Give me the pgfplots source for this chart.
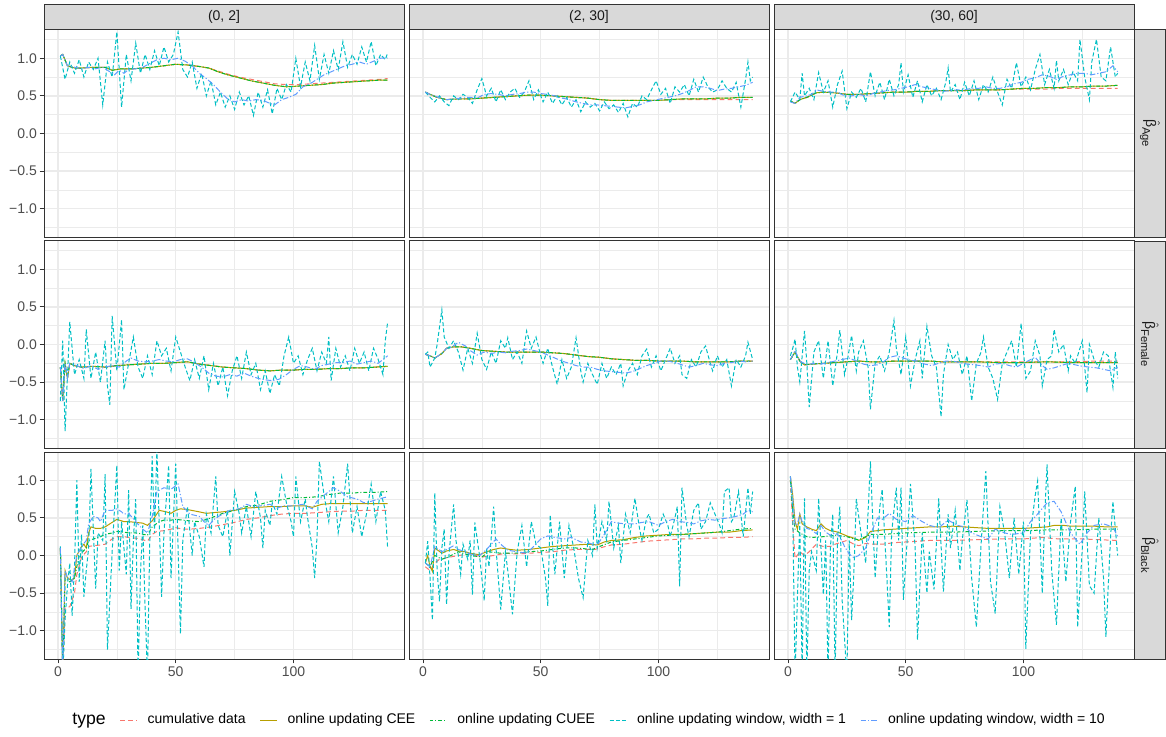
\documentclass[border=0pt]{standalone}
\usepackage{fontspec}
\setmainfont{Liberation Sans}
\usepackage{pgfplots}
\pgfplotsset{compat=1.18}
\definecolor{ggred}{HTML}{F8766D}
\definecolor{ggolive}{HTML}{B79F00}
\definecolor{gggreen}{HTML}{00BA38}
\definecolor{ggcyan}{HTML}{00BFC4}
\definecolor{ggblue}{HTML}{619CFF}
\definecolor{grey92}{HTML}{EBEBEB}
\definecolor{grey20}{HTML}{333333}
\definecolor{grey85}{HTML}{D9D9D9}
\definecolor{grey30}{HTML}{4D4D4D}
\definecolor{grey10}{HTML}{1A1A1A}
\newcommand{\fsz}{\fontsize{7}{8.4}\selectfont}
\newcommand{\bh}[1]{\(\hat{\mbox{β}}_{\mbox{\fontsize{5.6}{6}\selectfont #1}}\)}
\pgfplotsset{
  panel/.style={
    scale only axis, width=180pt, height=103.5pt, anchor=south west,
    xmin=-5.95, xmax=146.95, ymin=-1.375, ymax=1.375,
    xtick={0,50,100}, minor xtick={25,75,125},
    ytick={-1,-0.5,0,0.5,1}, minor ytick={-1.25,-0.75,-0.25,0.25,0.75,1.25},
    grid=both,
    major grid style={draw=grey92, line width=0.7pt},
    minor grid style={draw=grey92, line width=0.35pt},
    axis line style={draw=grey20, line width=0.5pt},
    xticklabels={}, yticklabels={},
    tick align=outside, major tick length=2.2pt, minor tick length=0pt,
    xtick pos=bottom, ytick pos=left,
    xtick style={draw=none}, ytick style={draw=none},
    tick label style={font=\fsz, text=grey30},
    no markers, every axis plot/.append style={line width=0.5pt},
    every axis title/.style={at={(0.5,1)}, anchor=south, draw=grey20, line width=0.5pt, fill=grey85, minimum width=180pt, minimum height=12.5pt, inner sep=0pt, font=\fsz, text=grey10},
  },
  leftcol/.style={yticklabels={−1.0,−0.5,0.0,0.5,1.0}, ytick style={draw=grey20, line width=0.5pt}, yticklabel style={inner xsep=1.2pt}},
  botrow/.style={xticklabels={0,50,100}, xtick style={draw=grey20, line width=0.5pt}, xticklabel style={inner ysep=1.5pt}},
  strip/.style={after end axis/.append code={\node[draw=grey20, line width=0.5pt, fill=grey85, rotate=-90, minimum width=103.5pt, minimum height=15.5pt, inner sep=0pt, anchor=south, font=\fsz, text=grey10] at (rel axis cs:1,0.5) {#1};}},
  cum/.style={ggred, dash pattern=on 2.4pt off 1.6pt},
  cee/.style={ggolive, solid},
  cuee/.style={gggreen, dash pattern=on 1.8pt off 1pt on 0.5pt off 1pt},
  winA/.style={ggcyan, dash pattern=on 2pt off 1.2pt},
  winB/.style={ggblue, dash pattern=on 2.8pt off 1pt on 0.6pt off 1pt},
}
\begin{document}
\begin{tikzpicture}
\useasboundingbox (0,0) rectangle (583pt,368pt);
% ---------------- Row 1: Age ----------------
\begin{axis}[panel, leftcol, at={(22pt,249.5pt)}, title={(0, 2]}]
\addplot[cum] coordinates {(1,1.03)(2,1.05)(4,0.90)(7,0.87)(10,0.87)(15,0.88)(20,0.88)(23,0.84)(27,0.86)(32,0.86)(40,0.88)(45,0.90)(50,0.92)(55,0.91)(60,0.89)(64,0.87)(68,0.83)(72,0.79)(77,0.75)(82,0.72)(87,0.69)(92,0.66)(97,0.65)(102,0.65)(107,0.66)(112,0.67)(117,0.68)(122,0.69)(127,0.70)(132,0.71)(137,0.72)(140,0.73)};
\addplot[cee] coordinates {(1,1.03)(2,1.05)(4,0.90)(7,0.87)(10,0.87)(15,0.88)(20,0.88)(23,0.84)(27,0.86)(32,0.86)(40,0.88)(45,0.90)(50,0.92)(55,0.91)(60,0.89)(64,0.87)(68,0.82)(72,0.78)(77,0.74)(82,0.70)(87,0.67)(92,0.64)(97,0.62)(102,0.63)(107,0.64)(112,0.65)(117,0.67)(122,0.68)(127,0.69)(132,0.70)(137,0.71)(140,0.71)};
\addplot[cuee] coordinates {(1,1.03)(2,1.05)(4,0.90)(7,0.87)(10,0.87)(15,0.88)(20,0.88)(23,0.84)(27,0.86)(32,0.86)(40,0.88)(45,0.90)(50,0.92)(55,0.91)(60,0.89)(64,0.87)(68,0.82)(72,0.78)(77,0.74)(82,0.70)(87,0.67)(92,0.64)(97,0.62)(102,0.63)(107,0.64)(112,0.65)(117,0.67)(122,0.68)(127,0.69)(132,0.70)(137,0.71)(140,0.71)};
\addplot[winA] coordinates {(1,1.03)(3,0.72)(5,0.95)(7,0.80)(9,0.98)(11,0.75)(13,0.95)(15,0.85)(17,1.0)(19,0.38)(21,0.95)(23,0.75)(25,1.35)(27,0.35)(29,1.05)(31,0.70)(33,1.20)(35,0.80)(37,1.05)(39,0.85)(41,1.10)(43,0.90)(45,1.15)(47,0.95)(49,1.05)(51,1.35)(53,0.85)(55,0.75)(57,0.95)(59,0.60)(61,0.80)(63,0.50)(65,0.70)(67,0.38)(69,0.55)(71,0.35)(73,0.50)(75,0.32)(77,0.55)(79,0.38)(81,0.50)(83,0.24)(85,0.55)(87,0.35)(89,0.58)(91,0.26)(93,0.60)(95,0.45)(97,0.65)(99,0.55)(101,1.00)(103,0.62)(105,0.95)(107,0.70)(109,1.17)(111,0.72)(113,1.05)(115,0.80)(117,1.10)(119,0.85)(121,1.22)(123,0.88)(125,1.05)(127,0.92)(129,1.15)(131,0.95)(133,1.22)(135,0.90)(137,1.05)(139,0.98)(140,1.07)};
\addplot[winB] coordinates {(1,1.03)(2,1.05)(4,0.90)(7,0.88)(10,0.86)(13,0.88)(16,0.86)(19,0.88)(22,0.82)(24,0.78)(26,0.84)(28,0.80)(30,0.85)(33,0.86)(36,0.88)(39,0.93)(42,0.98)(45,1.00)(48,0.98)(51,1.00)(54,0.96)(57,0.90)(60,0.80)(63,0.73)(66,0.65)(69,0.55)(72,0.46)(75,0.42)(78,0.45)(81,0.43)(84,0.45)(87,0.44)(90,0.40)(92,0.38)(95,0.45)(98,0.48)(101,0.52)(104,0.62)(107,0.66)(110,0.72)(113,0.78)(116,0.82)(119,0.86)(122,0.90)(125,0.92)(128,0.95)(131,0.92)(134,0.96)(137,1.00)(140,1.00)};
\end{axis}
\begin{axis}[panel, at={(204.5pt,249.5pt)}, title={(2, 30]}]
\addplot[cum] coordinates {(1,0.55)(3,0.52)(6,0.48)(10,0.45)(15,0.46)(20,0.46)(25,0.47)(30,0.48)(35,0.49)(40,0.50)(45,0.51)(50,0.51)(55,0.50)(60,0.49)(65,0.48)(70,0.47)(75,0.45)(80,0.44)(85,0.44)(90,0.44)(95,0.44)(100,0.44)(105,0.45)(110,0.45)(115,0.45)(120,0.45)(125,0.45)(130,0.45)(135,0.45)(140,0.45)};
\addplot[cee] coordinates {(1,0.55)(3,0.52)(6,0.48)(10,0.45)(15,0.46)(20,0.46)(25,0.47)(30,0.48)(35,0.49)(40,0.50)(45,0.51)(50,0.51)(55,0.50)(60,0.49)(65,0.48)(70,0.47)(75,0.45)(80,0.44)(85,0.44)(90,0.44)(95,0.44)(100,0.44)(105,0.45)(110,0.46)(115,0.46)(120,0.46)(125,0.47)(130,0.47)(135,0.48)(140,0.48)};
\addplot[cuee] coordinates {(1,0.55)(3,0.52)(6,0.48)(10,0.45)(15,0.46)(20,0.46)(25,0.47)(30,0.48)(35,0.49)(40,0.50)(45,0.51)(50,0.51)(55,0.50)(60,0.49)(65,0.48)(70,0.47)(75,0.45)(80,0.44)(85,0.44)(90,0.44)(95,0.44)(100,0.44)(105,0.45)(110,0.46)(115,0.46)(120,0.46)(125,0.47)(130,0.47)(135,0.48)(140,0.48)};
\addplot[winA] coordinates {(1,0.55)(3,0.48)(5,0.42)(7,0.50)(9,0.42)(11,0.37)(13,0.50)(15,0.45)(17,0.52)(19,0.48)(21,0.40)(23,0.58)(25,0.73)(27,0.50)(29,0.60)(31,0.42)(33,0.58)(35,0.45)(37,0.55)(39,0.60)(41,0.48)(43,0.55)(45,0.70)(47,0.45)(49,0.58)(51,0.42)(53,0.55)(55,0.40)(57,0.50)(59,0.38)(61,0.48)(63,0.35)(65,0.45)(67,0.29)(69,0.42)(71,0.35)(73,0.40)(75,0.30)(77,0.42)(79,0.33)(81,0.38)(83,0.28)(85,0.40)(87,0.22)(89,0.40)(91,0.35)(93,0.50)(95,0.45)(97,0.58)(99,0.70)(101,0.52)(103,0.60)(105,0.40)(107,0.62)(109,0.55)(111,0.65)(113,0.50)(115,0.72)(117,0.55)(119,0.75)(121,0.62)(123,0.55)(125,0.58)(127,0.70)(129,0.60)(131,0.55)(133,0.68)(135,0.35)(137,0.72)(138,0.95)(139,0.70)(140,0.75)};
\addplot[winB] coordinates {(1,0.55)(3,0.52)(5,0.50)(8,0.46)(10,0.45)(13,0.46)(16,0.47)(20,0.48)(23,0.47)(26,0.52)(29,0.53)(32,0.52)(35,0.50)(38,0.52)(41,0.53)(44,0.55)(47,0.55)(50,0.53)(53,0.52)(56,0.50)(59,0.47)(62,0.45)(65,0.42)(68,0.40)(71,0.38)(74,0.38)(77,0.37)(80,0.36)(83,0.35)(86,0.34)(89,0.36)(92,0.38)(95,0.42)(98,0.44)(101,0.46)(104,0.48)(107,0.50)(110,0.53)(113,0.57)(116,0.62)(119,0.62)(122,0.60)(125,0.57)(128,0.59)(131,0.60)(134,0.62)(137,0.64)(140,0.68)};
\end{axis}
\begin{axis}[panel, at={(387pt,249.5pt)}, title={(30, 60]}, strip={\bh{Age}}]
\addplot[cum] coordinates {(1,0.43)(3,0.40)(5,0.45)(8,0.48)(12,0.54)(15,0.55)(20,0.54)(25,0.52)(30,0.52)(35,0.53)(40,0.54)(45,0.55)(50,0.55)(55,0.56)(60,0.56)(65,0.57)(70,0.57)(75,0.57)(80,0.58)(85,0.58)(90,0.58)(95,0.59)(100,0.59)(105,0.59)(110,0.59)(115,0.60)(120,0.60)(125,0.60)(130,0.60)(135,0.60)(140,0.60)};
\addplot[cee] coordinates {(1,0.43)(3,0.40)(5,0.45)(8,0.48)(12,0.54)(15,0.55)(20,0.54)(25,0.52)(30,0.52)(35,0.53)(40,0.54)(45,0.55)(50,0.55)(55,0.56)(60,0.56)(65,0.57)(70,0.57)(75,0.57)(80,0.58)(85,0.58)(90,0.58)(95,0.59)(100,0.60)(105,0.60)(110,0.61)(115,0.61)(120,0.62)(125,0.62)(130,0.63)(135,0.63)(140,0.64)};
\addplot[cuee] coordinates {(1,0.43)(3,0.40)(5,0.45)(8,0.48)(12,0.54)(15,0.55)(20,0.54)(25,0.52)(30,0.52)(35,0.53)(40,0.54)(45,0.55)(50,0.55)(55,0.56)(60,0.56)(65,0.57)(70,0.57)(75,0.57)(80,0.58)(85,0.58)(90,0.58)(95,0.59)(100,0.60)(105,0.60)(110,0.61)(115,0.61)(120,0.62)(125,0.62)(130,0.63)(135,0.63)(140,0.64)};
\addplot[winA] coordinates {(1,0.42)(3,0.55)(5,0.45)(6,0.80)(7,0.50)(9,0.60)(11,0.45)(13,0.81)(15,0.55)(17,0.70)(19,0.35)(21,0.65)(23,0.83)(25,0.33)(27,0.55)(29,0.48)(31,0.60)(33,0.42)(35,0.82)(37,0.50)(39,0.68)(41,0.45)(43,0.72)(45,0.50)(47,0.65)(48,0.94)(49,0.55)(51,0.78)(53,0.48)(55,0.70)(57,0.42)(59,0.65)(61,0.50)(63,0.60)(65,0.45)(67,0.68)(68,0.87)(69,0.55)(71,0.65)(73,0.45)(75,0.68)(77,0.50)(79,0.70)(81,0.45)(83,0.65)(85,0.55)(87,0.75)(89,0.55)(91,0.38)(93,0.72)(95,0.60)(97,0.94)(99,0.62)(101,0.75)(103,0.58)(105,0.85)(107,1.05)(109,0.65)(111,0.85)(113,0.60)(114,0.97)(115,0.70)(117,0.85)(119,0.65)(121,0.82)(123,0.70)(124,1.25)(126,0.75)(128,0.45)(129,0.95)(131,1.25)(133,0.75)(135,0.70)(137,1.15)(139,0.75)(140,0.80)};
\addplot[winB] coordinates {(1,0.42)(3,0.40)(5,0.48)(8,0.50)(10,0.52)(12,0.58)(15,0.56)(18,0.55)(21,0.55)(24,0.50)(27,0.50)(30,0.52)(33,0.50)(36,0.53)(39,0.55)(42,0.57)(45,0.58)(48,0.60)(51,0.62)(54,0.65)(57,0.62)(60,0.60)(63,0.58)(66,0.56)(69,0.57)(72,0.58)(75,0.58)(78,0.60)(81,0.60)(84,0.62)(87,0.60)(90,0.60)(93,0.62)(96,0.66)(99,0.68)(102,0.72)(105,0.74)(108,0.78)(111,0.76)(114,0.72)(117,0.76)(120,0.78)(123,0.80)(126,0.80)(129,0.78)(132,0.80)(135,0.82)(138,0.90)(140,0.82)};
\end{axis}
% ---------------- Row 2: Female ----------------
\begin{axis}[panel, leftcol, at={(22pt,144pt)}]
\addplot[cum] coordinates {(1,-0.30)(2,-0.75)(3,-0.25)(4,-0.45)(5,-0.25)(7,-0.28)(10,-0.30)(15,-0.29)(20,-0.30)(25,-0.28)(30,-0.27)(35,-0.26)(40,-0.25)(45,-0.25)(50,-0.24)(55,-0.23)(60,-0.26)(65,-0.28)(70,-0.30)(75,-0.31)(80,-0.32)(85,-0.34)(90,-0.35)(95,-0.34)(100,-0.34)(105,-0.33)(110,-0.33)(115,-0.32)(120,-0.32)(125,-0.31)(130,-0.31)(135,-0.30)(140,-0.29)};
\addplot[cee] coordinates {(1,-0.30)(2,-0.75)(3,-0.25)(4,-0.45)(5,-0.25)(7,-0.28)(10,-0.30)(15,-0.29)(20,-0.30)(25,-0.28)(30,-0.27)(35,-0.26)(40,-0.25)(45,-0.25)(50,-0.24)(55,-0.23)(60,-0.26)(65,-0.28)(70,-0.30)(75,-0.31)(80,-0.32)(85,-0.34)(90,-0.35)(95,-0.34)(100,-0.34)(105,-0.33)(110,-0.33)(115,-0.32)(120,-0.32)(125,-0.31)(130,-0.31)(135,-0.30)(140,-0.29)};
\addplot[cuee] coordinates {(1,-0.30)(2,-0.75)(3,-0.25)(4,-0.45)(5,-0.25)(7,-0.28)(10,-0.30)(15,-0.29)(20,-0.30)(25,-0.28)(30,-0.27)(35,-0.26)(40,-0.25)(45,-0.25)(50,-0.24)(55,-0.23)(60,-0.26)(65,-0.28)(70,-0.30)(75,-0.31)(80,-0.32)(85,-0.34)(90,-0.35)(95,-0.34)(100,-0.34)(105,-0.33)(110,-0.33)(115,-0.32)(120,-0.32)(125,-0.31)(130,-0.31)(135,-0.30)(140,-0.29)};
\addplot[winA] coordinates {(1,-0.75)(2,0.05)(3,-1.15)(5,0.30)(7,-0.40)(9,-0.20)(11,-0.45)(12,0.20)(14,-0.45)(16,-0.10)(18,-0.50)(20,0.05)(21,-0.55)(22,-0.80)(23,0.38)(25,-0.35)(27,0.33)(28,-0.60)(30,-0.25)(32,0.10)(34,-0.30)(36,-0.45)(38,-0.15)(40,-0.40)(42,0.05)(44,-0.15)(46,-0.05)(48,-0.35)(50,0.10)(52,-0.10)(54,-0.30)(56,-0.48)(58,-0.20)(60,-0.45)(62,-0.15)(64,-0.60)(66,-0.25)(68,-0.55)(70,-0.30)(72,-0.68)(74,-0.35)(76,-0.15)(78,-0.45)(80,-0.10)(82,-0.40)(84,-0.25)(86,-0.60)(88,-0.35)(90,-0.65)(92,-0.40)(94,-0.55)(96,-0.15)(98,0.10)(100,-0.25)(102,-0.15)(104,-0.40)(106,-0.20)(108,-0.05)(110,-0.35)(112,-0.10)(114,-0.25)(115,0.10)(116,-0.48)(118,-0.05)(120,-0.30)(122,-0.15)(124,-0.35)(126,-0.05)(128,-0.25)(130,-0.10)(132,-0.35)(134,-0.05)(136,-0.20)(138,-0.40)(139,0.05)(140,0.30)};
\addplot[winB] coordinates {(1,-0.30)(2,-0.75)(3,-0.25)(4,-0.45)(5,-0.25)(8,-0.28)(11,-0.32)(14,-0.28)(17,-0.33)(20,-0.30)(23,-0.28)(26,-0.30)(29,-0.22)(31,-0.18)(34,-0.22)(37,-0.23)(40,-0.22)(43,-0.20)(46,-0.22)(49,-0.23)(52,-0.20)(55,-0.19)(58,-0.24)(61,-0.30)(64,-0.38)(67,-0.42)(70,-0.43)(73,-0.40)(76,-0.42)(79,-0.38)(82,-0.42)(85,-0.45)(88,-0.47)(91,-0.48)(94,-0.46)(97,-0.40)(100,-0.33)(103,-0.28)(106,-0.30)(109,-0.33)(112,-0.28)(115,-0.26)(118,-0.24)(121,-0.24)(124,-0.22)(127,-0.26)(130,-0.24)(133,-0.22)(136,-0.25)(138,-0.20)(140,-0.15)};
\end{axis}
\begin{axis}[panel, at={(204.5pt,144pt)}]
\addplot[cum] coordinates {(1,-0.13)(3,-0.15)(5,-0.18)(8,-0.12)(10,-0.05)(13,-0.03)(16,-0.03)(20,-0.05)(25,-0.08)(30,-0.09)(35,-0.10)(40,-0.10)(45,-0.10)(50,-0.10)(55,-0.11)(60,-0.12)(65,-0.14)(70,-0.16)(75,-0.17)(80,-0.19)(85,-0.20)(90,-0.21)(95,-0.21)(100,-0.22)(105,-0.22)(110,-0.22)(115,-0.23)(120,-0.23)(125,-0.23)(130,-0.23)(135,-0.22)(140,-0.22)};
\addplot[cee] coordinates {(1,-0.13)(3,-0.15)(5,-0.18)(8,-0.12)(10,-0.05)(13,-0.03)(16,-0.03)(20,-0.05)(25,-0.08)(30,-0.09)(35,-0.10)(40,-0.10)(45,-0.10)(50,-0.10)(55,-0.11)(60,-0.12)(65,-0.14)(70,-0.16)(75,-0.17)(80,-0.19)(85,-0.20)(90,-0.21)(95,-0.21)(100,-0.22)(105,-0.22)(110,-0.22)(115,-0.23)(120,-0.23)(125,-0.23)(130,-0.23)(135,-0.22)(140,-0.22)};
\addplot[cuee] coordinates {(1,-0.13)(3,-0.15)(5,-0.18)(8,-0.12)(10,-0.05)(13,-0.03)(16,-0.03)(20,-0.05)(25,-0.08)(30,-0.09)(35,-0.10)(40,-0.10)(45,-0.10)(50,-0.10)(55,-0.11)(60,-0.12)(65,-0.14)(70,-0.16)(75,-0.17)(80,-0.19)(85,-0.20)(90,-0.21)(95,-0.21)(100,-0.22)(105,-0.22)(110,-0.22)(115,-0.23)(120,-0.23)(125,-0.23)(130,-0.23)(135,-0.22)(140,-0.22)};
\addplot[winA] coordinates {(1,-0.13)(2,-0.10)(3,-0.30)(5,-0.18)(6,0.00)(8,0.46)(9,0.10)(11,-0.05)(13,0.05)(15,-0.10)(17,-0.34)(19,-0.05)(21,-0.25)(23,0.15)(25,-0.20)(27,-0.33)(29,-0.10)(31,-0.25)(33,0.05)(35,-0.05)(36,0.09)(38,-0.20)(40,-0.10)(42,-0.25)(44,0.18)(46,-0.05)(48,0.10)(50,-0.15)(51,-0.25)(53,-0.05)(55,-0.30)(57,-0.53)(59,-0.20)(61,-0.45)(63,-0.30)(65,0.09)(67,-0.35)(68,-0.50)(70,-0.25)(72,-0.40)(74,-0.53)(76,-0.25)(78,-0.45)(80,-0.30)(82,-0.40)(84,-0.25)(85,-0.55)(87,-0.35)(89,-0.25)(91,-0.40)(93,-0.15)(95,-0.06)(97,-0.30)(99,-0.15)(101,-0.35)(103,-0.20)(105,-0.05)(107,-0.25)(109,-0.15)(110,-0.40)(112,-0.45)(114,-0.20)(116,-0.30)(118,-0.10)(120,-0.02)(122,-0.25)(123,-0.35)(125,-0.15)(127,-0.30)(129,-0.20)(131,-0.55)(133,-0.20)(135,-0.30)(137,-0.15)(138,0.03)(140,-0.20)};
\addplot[winB] coordinates {(1,-0.13)(3,-0.15)(5,-0.18)(8,-0.12)(10,-0.05)(12,-0.04)(15,0.03)(18,-0.02)(20,-0.08)(23,-0.14)(26,-0.10)(29,-0.12)(32,-0.10)(35,-0.11)(38,-0.09)(41,-0.08)(44,-0.06)(47,-0.08)(50,-0.10)(53,-0.14)(56,-0.18)(59,-0.22)(62,-0.25)(65,-0.28)(68,-0.30)(71,-0.30)(74,-0.33)(77,-0.35)(80,-0.36)(83,-0.37)(86,-0.38)(89,-0.36)(92,-0.32)(95,-0.28)(98,-0.25)(101,-0.22)(104,-0.22)(107,-0.24)(110,-0.27)(113,-0.30)(116,-0.28)(119,-0.25)(122,-0.27)(125,-0.28)(128,-0.25)(131,-0.24)(134,-0.22)(137,-0.23)(140,-0.22)};
\end{axis}
\begin{axis}[panel, at={(387pt,144pt)}, strip={\bh{Female}}]
\addplot[cum] coordinates {(1,-0.20)(3,-0.10)(5,-0.22)(7,-0.27)(10,-0.26)(15,-0.25)(20,-0.24)(25,-0.23)(30,-0.22)(35,-0.23)(40,-0.23)(45,-0.22)(50,-0.22)(55,-0.22)(60,-0.22)(65,-0.23)(70,-0.23)(80,-0.23)(90,-0.23)(100,-0.23)(110,-0.23)(120,-0.23)(130,-0.22)(140,-0.22)};
\addplot[cee] coordinates {(1,-0.20)(3,-0.10)(5,-0.22)(7,-0.27)(10,-0.26)(15,-0.25)(20,-0.24)(25,-0.23)(30,-0.22)(35,-0.23)(40,-0.23)(45,-0.22)(50,-0.22)(55,-0.22)(60,-0.22)(65,-0.23)(70,-0.23)(80,-0.23)(90,-0.24)(100,-0.24)(110,-0.23)(120,-0.24)(130,-0.24)(140,-0.24)};
\addplot[cuee] coordinates {(1,-0.20)(3,-0.10)(5,-0.22)(7,-0.27)(10,-0.26)(15,-0.25)(20,-0.24)(25,-0.23)(30,-0.22)(35,-0.23)(40,-0.23)(45,-0.22)(50,-0.22)(55,-0.22)(60,-0.22)(65,-0.23)(70,-0.23)(80,-0.23)(90,-0.24)(100,-0.24)(110,-0.23)(120,-0.24)(130,-0.24)(140,-0.24)};
\addplot[winA] coordinates {(1,-0.15)(2,-0.05)(3,0.07)(4,-0.30)(5,-0.50)(7,0.18)(8,-0.25)(9,-0.83)(11,-0.10)(13,0.05)(15,-0.45)(17,0.05)(19,-0.55)(21,-0.10)(22,0.19)(24,-0.40)(25,-0.25)(27,0.12)(29,-0.35)(30,-0.10)(32,0.05)(34,-0.30)(35,-0.86)(37,-0.25)(39,-0.15)(41,-0.35)(43,-0.10)(45,0.32)(46,-0.05)(48,-0.40)(50,0.10)(52,-0.55)(54,-0.20)(56,0.05)(57,-0.45)(59,0.24)(61,-0.15)(63,-0.30)(65,-0.96)(66,-0.40)(68,0.00)(70,-0.20)(72,-0.10)(74,-0.40)(76,-0.15)(78,-0.75)(80,-0.25)(82,-0.10)(83,0.10)(85,-0.30)(87,-0.45)(89,-0.73)(91,-0.25)(93,-0.10)(95,0.05)(97,-0.30)(99,0.28)(101,-0.45)(103,-0.35)(105,0.05)(107,-0.15)(108,-0.55)(110,-0.20)(112,-0.15)(113,0.20)(115,-0.10)(117,0.00)(119,-0.35)(120,-0.15)(122,-0.25)(124,-0.05)(125,0.05)(127,-0.64)(128,0.00)(130,-0.20)(132,-0.30)(134,-0.10)(136,-0.15)(138,-0.57)(139,-0.10)(140,-0.45)};
\addplot[winB] coordinates {(1,-0.20)(3,-0.08)(5,-0.22)(8,-0.27)(11,-0.25)(14,-0.26)(17,-0.24)(20,-0.22)(23,-0.20)(26,-0.18)(29,-0.22)(32,-0.26)(35,-0.28)(38,-0.27)(41,-0.22)(43,-0.17)(46,-0.15)(49,-0.18)(52,-0.21)(55,-0.22)(58,-0.26)(61,-0.28)(64,-0.25)(67,-0.22)(70,-0.22)(73,-0.24)(76,-0.26)(79,-0.27)(82,-0.28)(85,-0.30)(88,-0.26)(91,-0.25)(94,-0.28)(97,-0.30)(100,-0.25)(103,-0.20)(105,-0.17)(108,-0.28)(110,-0.33)(113,-0.31)(116,-0.28)(119,-0.25)(122,-0.27)(125,-0.29)(128,-0.30)(131,-0.31)(134,-0.33)(137,-0.35)(140,-0.30)};
\end{axis}
% ---------------- Row 3: Black ----------------
\begin{axis}[panel, leftcol, botrow, at={(22pt,38.5pt)}]
\addplot[cum] coordinates {(1,0.10)(2,-1.55)(3,-0.70)(5,-0.68)(7,-0.50)(8,-0.25)(10,-0.02)(12,0.05)(13,0.12)(15,0.13)(18,0.14)(20,0.15)(23,0.22)(25,0.25)(28,0.25)(30,0.24)(33,0.23)(35,0.22)(38,0.19)(40,0.28)(42,0.32)(45,0.33)(48,0.35)(50,0.37)(53,0.35)(56,0.35)(60,0.36)(65,0.38)(70,0.41)(75,0.44)(80,0.48)(85,0.50)(90,0.53)(95,0.55)(100,0.56)(105,0.56)(110,0.57)(115,0.58)(120,0.59)(125,0.59)(130,0.60)(135,0.60)(140,0.60)};
\addplot[cee] coordinates {(1,0.10)(2,-1.55)(3,-0.20)(4,-0.30)(6,-0.33)(7,-0.30)(8,0.00)(10,0.12)(11,0.15)(12,0.10)(13,0.30)(14,0.38)(16,0.36)(18,0.36)(20,0.38)(22,0.42)(25,0.48)(28,0.45)(30,0.45)(33,0.44)(36,0.43)(38,0.40)(40,0.46)(43,0.60)(46,0.58)(48,0.56)(50,0.60)(52,0.62)(55,0.61)(60,0.58)(63,0.56)(66,0.57)(70,0.58)(75,0.60)(80,0.63)(85,0.64)(90,0.65)(95,0.65)(100,0.66)(105,0.66)(108,0.64)(112,0.68)(116,0.69)(120,0.69)(125,0.69)(130,0.69)(135,0.69)(140,0.69)};
\addplot[cuee] coordinates {(1,0.10)(2,-1.55)(3,-0.30)(5,-0.35)(7,-0.30)(9,0.00)(12,0.10)(13,0.20)(15,0.22)(18,0.25)(20,0.28)(23,0.30)(25,0.32)(28,0.31)(30,0.30)(33,0.30)(35,0.29)(38,0.27)(40,0.38)(43,0.45)(45,0.47)(48,0.47)(50,0.48)(53,0.47)(56,0.46)(60,0.45)(65,0.50)(70,0.56)(75,0.60)(80,0.65)(85,0.67)(90,0.72)(95,0.74)(100,0.77)(105,0.77)(110,0.78)(115,0.81)(120,0.83)(125,0.83)(130,0.84)(135,0.84)(140,0.85)};
\addplot[winA] coordinates {(1,0.12)(2,-1.60)(3,-0.85)(4,-0.40)(5,-0.10)(6,-0.80)(7,-0.15)(8,1.00)(9,-0.35)(10,0.28)(11,-0.55)(12,-0.20)(13,0.10)(14,1.15)(16,-0.44)(17,0.30)(19,0.20)(20,1.08)(21,-1.25)(23,0.05)(25,1.20)(26,-0.20)(27,0.45)(29,-0.25)(30,0.87)(31,-0.71)(32,0.20)(33,0.75)(34,-1.60)(35,-0.25)(36,0.40)(37,-0.70)(38,-1.60)(39,0.25)(40,1.32)(41,0.30)(42,1.40)(44,-0.55)(45,0.30)(47,1.20)(48,-0.30)(50,1.22)(52,-1.04)(53,0.20)(55,0.65)(57,0.00)(58,0.45)(60,0.25)(62,-0.15)(63,0.55)(65,0.30)(67,1.05)(68,0.40)(70,0.25)(72,0.60)(73,0.00)(75,0.85)(77,0.55)(78,0.30)(80,0.65)(82,0.25)(84,0.85)(86,0.50)(87,0.10)(88,0.60)(90,0.40)(91,0.70)(93,0.55)(95,1.05)(97,0.70)(99,0.45)(100,0.25)(101,1.05)(103,0.45)(105,0.75)(106,0.50)(108,0.10)(109,-0.30)(110,0.25)(111,1.25)(113,0.80)(115,0.45)(117,1.05)(119,0.30)(121,0.65)(123,1.22)(125,0.30)(127,0.65)(129,0.25)(131,0.55)(133,0.95)(135,0.45)(137,0.85)(139,0.60)(140,0.10)};
\addplot[winB] coordinates {(1,0.10)(2,-1.55)(3,-0.20)(4,-0.30)(6,-0.35)(8,0.00)(10,0.12)(12,0.20)(13,0.42)(15,0.52)(17,0.50)(18,0.45)(20,0.60)(23,0.60)(25,0.62)(27,0.58)(28,0.55)(30,0.56)(33,0.45)(36,0.35)(38,0.30)(40,0.52)(42,0.85)(45,0.90)(48,0.88)(51,0.95)(53,0.65)(56,0.55)(60,0.52)(62,0.45)(64,0.40)(67,0.50)(70,0.55)(73,0.60)(77,0.62)(80,0.68)(83,0.65)(86,0.66)(90,0.68)(93,0.63)(96,0.66)(100,0.66)(104,0.68)(108,0.62)(110,0.72)(113,0.80)(117,0.90)(120,0.85)(123,0.78)(127,0.75)(130,0.70)(133,0.72)(136,0.75)(140,0.78)};
\end{axis}
\begin{axis}[panel, botrow, at={(204.5pt,38.5pt)},
  legend columns=-1,
  legend style={at={(0.485,-0.295)}, anchor=center, draw=none, fill=none, font=\fsz, inner sep=0pt,
    nodes={inner xsep=0pt, inner ysep=1pt},
    /tikz/every odd column/.append style={column sep=5pt},
    /tikz/every even column/.append style={column sep=7pt}},
  legend cell align=left,
  legend image code/.code={\draw[#1] (0pt,0pt) -- (8.5pt,0pt);}]
\addlegendimage{empty legend}
\addplot[cum] coordinates {(1,-0.15)(3,-0.20)(5,-0.10)(7,-0.05)(10,-0.03)(15,0.00)(20,0.02)(25,-0.02)(30,0.00)(35,0.03)(40,0.02)(45,0.03)(50,0.04)(55,0.05)(60,0.07)(65,0.08)(70,0.08)(73,0.08)(75,0.10)(80,0.14)(85,0.15)(90,0.17)(95,0.19)(100,0.20)(105,0.21)(110,0.22)(115,0.22)(120,0.23)(125,0.23)(130,0.24)(135,0.24)(140,0.25)};
\addplot[cee] coordinates {(1,-0.10)(2,0.00)(3,-0.15)(4,-0.21)(5,0.10)(8,0.03)(10,0.06)(13,0.08)(15,0.06)(18,0.05)(20,0.03)(24,0.01)(27,0.05)(30,0.08)(33,0.10)(37,0.08)(40,0.07)(45,0.08)(50,0.10)(55,0.12)(60,0.13)(65,0.14)(70,0.15)(74,0.14)(77,0.18)(80,0.20)(85,0.21)(90,0.24)(95,0.26)(100,0.27)(105,0.28)(110,0.28)(115,0.29)(120,0.30)(125,0.31)(130,0.31)(135,0.33)(140,0.34)};
\addplot[cuee] coordinates {(1,-0.10)(3,-0.15)(5,0.00)(8,-0.05)(10,-0.03)(15,0.05)(20,0.00)(25,-0.02)(28,0.05)(33,0.03)(40,0.03)(45,0.05)(50,0.06)(55,0.08)(60,0.10)(65,0.10)(72,0.08)(75,0.12)(80,0.18)(85,0.20)(90,0.22)(95,0.24)(100,0.26)(105,0.27)(110,0.28)(115,0.29)(120,0.30)(125,0.31)(130,0.33)(135,0.35)(140,0.36)};
\addplot[winA] coordinates {(1,-0.10)(2,0.19)(3,-0.30)(4,-0.86)(5,0.83)(6,-0.20)(7,-0.61)(8,0.10)(9,0.35)(10,-0.65)(11,0.00)(13,0.68)(14,0.20)(15,0.00)(16,-0.25)(17,0.15)(19,-0.05)(20,0.20)(21,-0.52)(22,0.44)(24,0.00)(26,-0.60)(27,0.10)(28,-0.15)(30,0.65)(31,0.10)(33,-0.72)(35,0.05)(36,-0.20)(38,-0.78)(40,0.05)(42,0.40)(44,-0.15)(46,0.45)(48,0.15)(50,0.10)(52,-0.30)(53,-0.67)(54,0.54)(56,-0.25)(58,0.45)(60,-0.30)(62,0.40)(64,0.10)(66,-0.30)(68,-0.56)(70,0.20)(72,0.00)(73,0.68)(74,0.10)(76,0.45)(78,0.20)(79,0.72)(81,0.10)(83,0.40)(84,-0.10)(86,0.55)(88,0.30)(90,0.76)(92,0.35)(93,0.20)(95,0.50)(96,0.55)(98,0.30)(100,0.35)(102,0.55)(104,0.40)(105,0.25)(107,0.50)(108,0.65)(109,-0.41)(110,0.90)(112,0.40)(113,0.25)(115,0.60)(117,0.70)(118,0.35)(120,0.45)(122,0.70)(124,0.55)(126,0.40)(127,0.30)(128,0.85)(130,0.90)(131,0.45)(132,0.50)(134,0.85)(136,0.25)(138,0.90)(139,0.55)(140,0.85)};
\addplot[winB] coordinates {(1,-0.10)(3,-0.15)(5,0.12)(8,0.05)(10,0.08)(13,0.13)(15,0.08)(18,0.05)(20,0.02)(24,0.00)(27,0.08)(29,0.15)(31,0.22)(33,0.15)(36,0.07)(40,0.05)(44,0.03)(47,0.12)(50,0.22)(53,0.26)(56,0.24)(60,0.22)(63,0.24)(67,0.18)(70,0.17)(72,0.15)(74,0.14)(77,0.28)(80,0.45)(83,0.43)(86,0.42)(90,0.42)(93,0.44)(96,0.45)(100,0.40)(103,0.45)(106,0.48)(109,0.45)(112,0.44)(115,0.42)(118,0.46)(121,0.48)(124,0.47)(127,0.49)(130,0.50)(133,0.52)(136,0.55)(138,0.60)(140,0.58)};
\legend{\fontsize{8.8}{10}\selectfont type\hspace{1.5pt}, cumulative data, online updating CEE, online updating CUEE, {online updating window, width = 1}, {online updating window, width = 10}}
\end{axis}
\begin{axis}[panel, botrow, at={(387pt,38.5pt)}, strip={\bh{Black}}]
\addplot[cum] coordinates {(1,1.00)(2,0.40)(3,-0.04)(5,0.05)(7,0.00)(9,0.05)(12,0.15)(15,0.12)(18,0.12)(20,0.15)(23,0.18)(25,0.20)(28,0.15)(30,0.13)(33,0.16)(36,0.15)(40,0.15)(45,0.17)(50,0.18)(55,0.19)(60,0.20)(70,0.20)(80,0.21)(90,0.22)(100,0.22)(108,0.24)(115,0.22)(125,0.22)(132,0.21)(140,0.20)};
\addplot[cee] coordinates {(1,1.05)(2,0.80)(3,0.45)(4,0.35)(5,0.55)(6,0.42)(8,0.38)(10,0.35)(12,0.33)(14,0.42)(16,0.36)(18,0.33)(20,0.32)(22,0.30)(25,0.26)(28,0.23)(30,0.20)(33,0.24)(35,0.32)(38,0.33)(40,0.34)(45,0.35)(50,0.36)(55,0.37)(60,0.38)(65,0.38)(70,0.39)(75,0.38)(80,0.37)(85,0.36)(90,0.36)(95,0.36)(100,0.36)(105,0.37)(110,0.38)(113,0.40)(117,0.40)(120,0.39)(125,0.39)(130,0.39)(135,0.38)(140,0.38)};
\addplot[cuee] coordinates {(1,1.00)(2,0.60)(3,0.35)(5,0.30)(8,0.25)(10,0.24)(15,0.25)(20,0.27)(25,0.25)(28,0.22)(30,0.21)(33,0.25)(35,0.28)(40,0.28)(50,0.30)(60,0.31)(70,0.31)(80,0.32)(90,0.33)(100,0.33)(110,0.34)(120,0.34)(130,0.35)(140,0.35)};
\addplot[winA] coordinates {(1,1.05)(2,0.60)(3,-1.60)(4,-0.55)(5,0.45)(6,-1.60)(7,0.76)(8,-1.60)(9,-0.20)(10,0.05)(12,-0.20)(13,0.76)(14,0.10)(15,-0.52)(16,0.20)(17,-1.60)(18,0.10)(19,0.55)(20,-1.60)(21,0.20)(22,0.65)(23,-0.60)(25,-1.60)(26,0.20)(27,-0.86)(28,-0.20)(29,0.75)(31,0.30)(33,-0.10)(35,1.25)(37,-0.30)(38,0.20)(39,0.65)(40,0.88)(42,-0.30)(43,-0.95)(44,0.30)(46,0.90)(47,0.20)(48,0.90)(49,-0.59)(51,0.40)(52,0.95)(54,0.10)(55,-1.12)(57,0.30)(59,-0.50)(60,0.05)(62,-0.45)(64,0.76)(66,-0.48)(68,0.55)(69,0.10)(71,0.60)(73,-0.20)(74,0.20)(76,0.74)(78,-0.30)(80,-0.95)(82,0.15)(84,1.12)(86,-0.35)(88,-0.77)(90,0.65)(92,0.30)(94,-0.30)(96,0.50)(98,-0.25)(100,0.45)(101,-1.24)(103,0.30)(105,0.80)(106,0.99)(108,-0.50)(109,0.50)(110,1.21)(112,-0.20)(114,-0.92)(116,0.50)(118,-0.35)(120,0.45)(122,0.92)(123,-0.95)(125,0.10)(126,0.85)(128,-0.40)(130,-0.50)(132,0.50)(134,-0.30)(135,-1.08)(137,0.25)(138,0.72)(140,0.00)};
\addplot[winB] coordinates {(1,1.05)(2,0.75)(3,0.40)(4,0.42)(5,0.55)(6,0.45)(8,0.36)(10,0.34)(12,0.29)(14,0.40)(16,0.31)(18,0.27)(20,0.30)(22,0.25)(24,0.12)(26,0.02)(28,-0.03)(30,0.00)(33,0.10)(35,0.28)(38,0.50)(40,0.48)(43,0.56)(46,0.48)(50,0.45)(53,0.53)(57,0.45)(60,0.40)(64,0.37)(68,0.47)(72,0.40)(75,0.38)(78,0.30)(82,0.25)(85,0.22)(88,0.35)(92,0.30)(95,0.28)(100,0.30)(103,0.45)(106,0.55)(110,0.70)(113,0.72)(116,0.58)(120,0.30)(124,0.15)(127,0.30)(130,0.40)(134,0.42)(138,0.38)(140,0.25)};
\end{axis}
\end{tikzpicture}
\end{document}
